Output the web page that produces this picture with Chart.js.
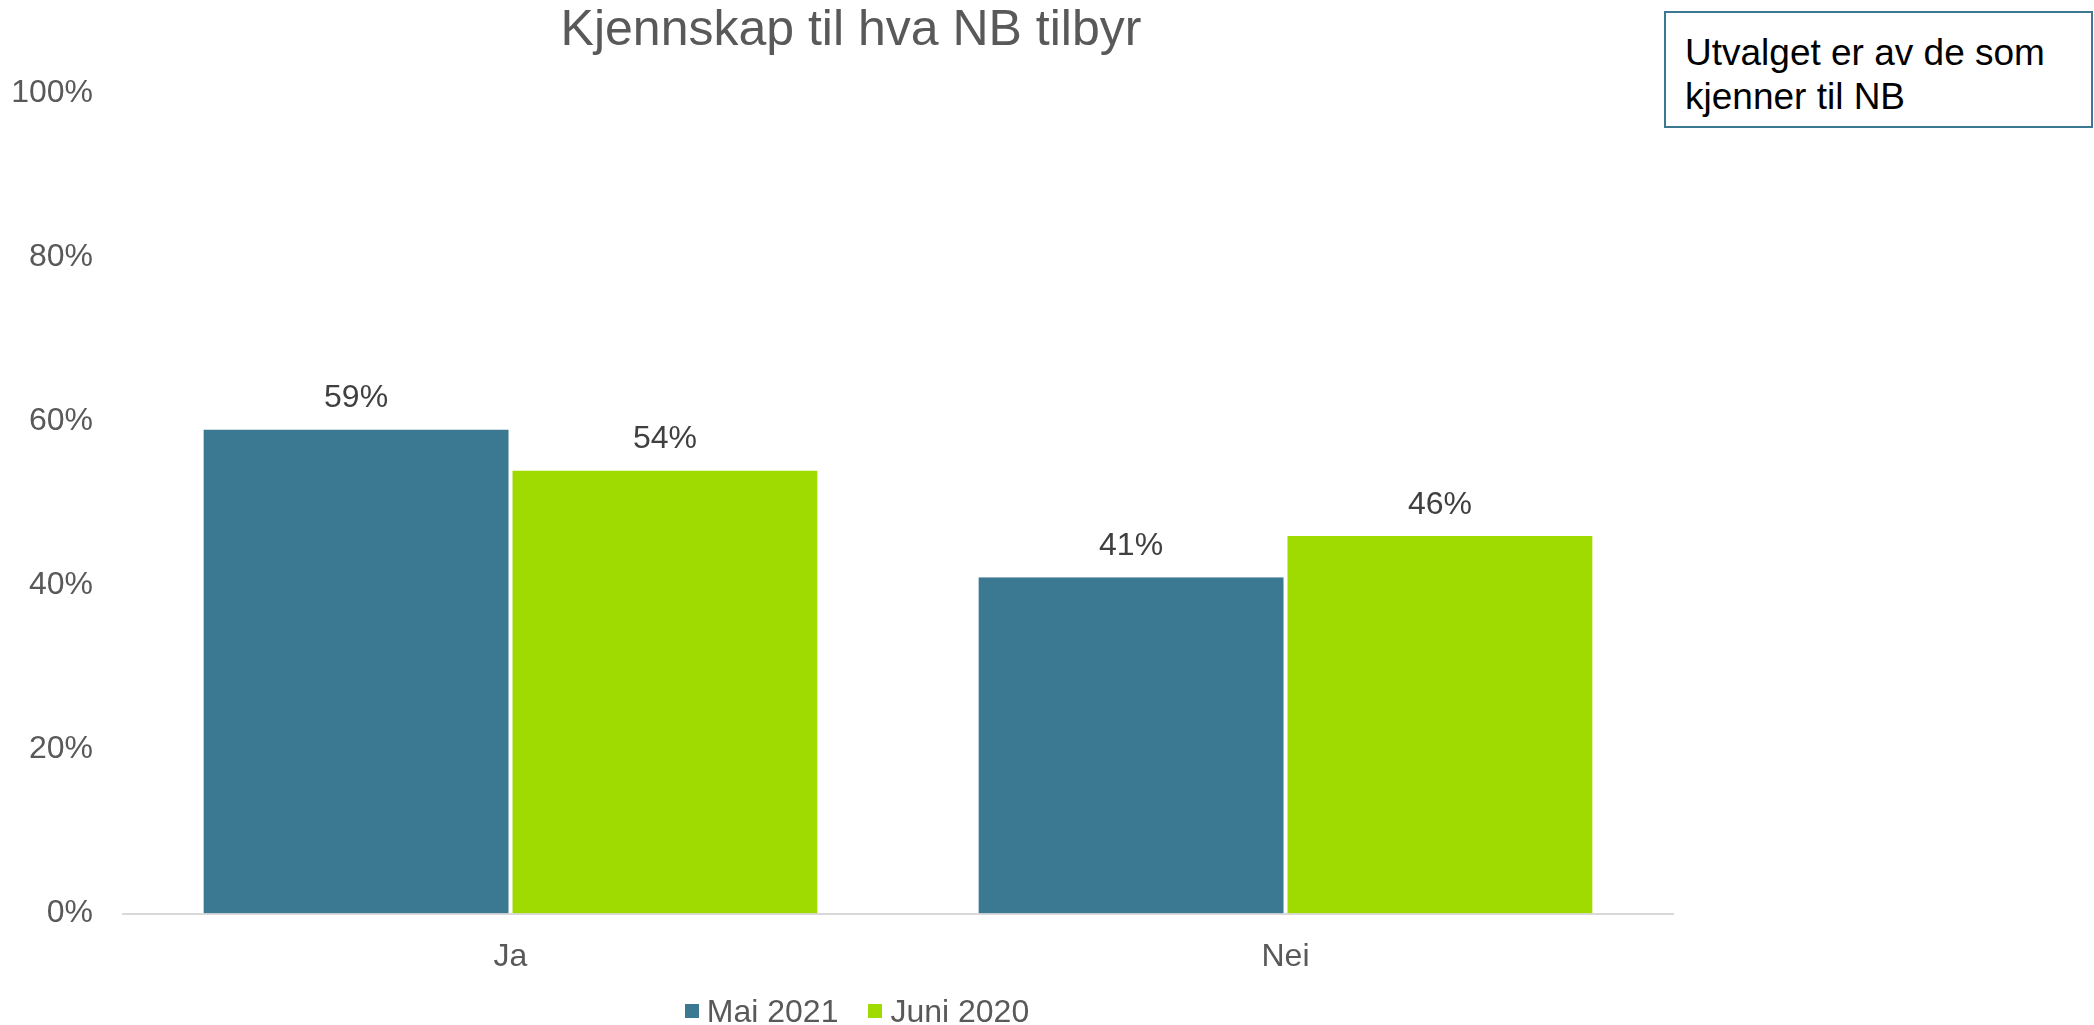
<!DOCTYPE html>
<html>
<head>
<meta charset="utf-8">
<script src="https://cdn.jsdelivr.net/npm/chart.js@4/dist/chart.umd.min.js"></script>
<style>
    body { margin: 0; background: #fff; font-family: "Liberation Sans", Arial, sans-serif; }
    #wrap { position: relative; width: 2094px; height: 1025px; overflow: hidden; }
    #note {
        position: absolute; left: 1664px; top: 11px; width: 387px; height: 88px;
        border: 2px solid #3b7891; padding: 18px 19px 7px 19px;
        font-size: 37px; line-height: 44px; color: #000; background: #fff;
    }
    #legend {
        position: absolute; left: 0; top: 992px; width: 1714px;
        display: flex; justify-content: center; font-size: 32px; line-height: 38px; color: #595959;
    }
    #legend .item { display: flex; align-items: center; margin: 0 15px; }
    #legend .box { width: 14px; height: 14px; margin-right: 8px; }
</style>
</head>
<body>
<div id="wrap">
    <canvas id="chart" width="2094" height="1025"></canvas>
    <div id="note">Utvalget er av de som kjenner til NB</div>
    <div id="legend"></div>
</div>
<script>
const titleText = "Kjennskap til hva NB tilbyr";
const categories = ["Ja", "Nei"];
const seriesNames = ["Mai 2021", "Juni 2020"];
const mai2021 = [59, 41];
const juni2020 = [54, 46];
const yTicks = [0, 20, 40, 60, 80, 100];
const colors = ["#3b7891", "#9fda00"];

document.addEventListener("DOMContentLoaded", function () {
    Chart.defaults.font.family = '"Liberation Sans", Arial, sans-serif';

    // title and labels above each bar
    const extraText = {
        id: "extraText",
        afterDatasetsDraw(chart) {
            const ctx = chart.ctx;
            ctx.save();
            ctx.textAlign = "center";
            ctx.textBaseline = "middle";
            ctx.font = '50px "Liberation Sans", Arial, sans-serif';
            ctx.fillStyle = "#595959";
            ctx.fillText(titleText, 851, 31);

            ctx.font = '32px "Liberation Sans", Arial, sans-serif';
            ctx.fillStyle = "#404040";
            chart.data.datasets.forEach((ds, i) => {
                chart.getDatasetMeta(i).data.forEach((bar, j) => {
                    ctx.fillText(ds.data[j] + "%", bar.x, bar.y - 31);
                });
            });
            ctx.restore();
        }
    };

    const seriesData = [mai2021, juni2020];
    const datasets = seriesNames.map((name, i) => ({
        label: name,
        data: seriesData[i],
        backgroundColor: colors[i],
        borderColor: "#ffffff",
        borderWidth: { left: 2, right: 2, top: 0, bottom: 0 },
        barPercentage: 1,
        categoryPercentage: 0.797
    }));

    const ctx = document.getElementById("chart").getContext("2d");
    new Chart(ctx, {
        type: "bar",
        data: { labels: categories, datasets: datasets },
        options: {
            responsive: false,
            animation: false,
            devicePixelRatio: 1,
            layout: { padding: { top: 93, right: 421, bottom: 25, left: 0 } },
            scales: {
                y: {
                    min: 0,
                    max: 100,
                    afterBuildTicks: axis => { axis.ticks = yTicks.map(v => ({ value: v })); },
                    afterFit: axis => { axis.width = 123; },
                    ticks: {
                        callback: v => v + "%",
                        color: "#595959",
                        font: { size: 32 },
                        padding: 30
                    },
                    grid: { display: false, drawTicks: false },
                    border: { display: false }
                },
                x: {
                    ticks: { color: "#595959", font: { size: 32 }, padding: 24 },
                    grid: { display: false, drawTicks: false },
                    border: { display: true, color: "#d9d9d9", width: 2 }
                }
            },
            plugins: {
                legend: { display: false },
                tooltip: { enabled: false },
                title: { display: false }
            }
        },
        plugins: [extraText]
    });

    // legend in html
    const legend = document.getElementById("legend");
    seriesNames.forEach((name, i) => {
        const item = document.createElement("div");
        item.className = "item";
        item.innerHTML = '<span class="box" style="background:' + colors[i] + '"></span>' + name;
        legend.appendChild(item);
    });
});
</script>
</body>
</html>
